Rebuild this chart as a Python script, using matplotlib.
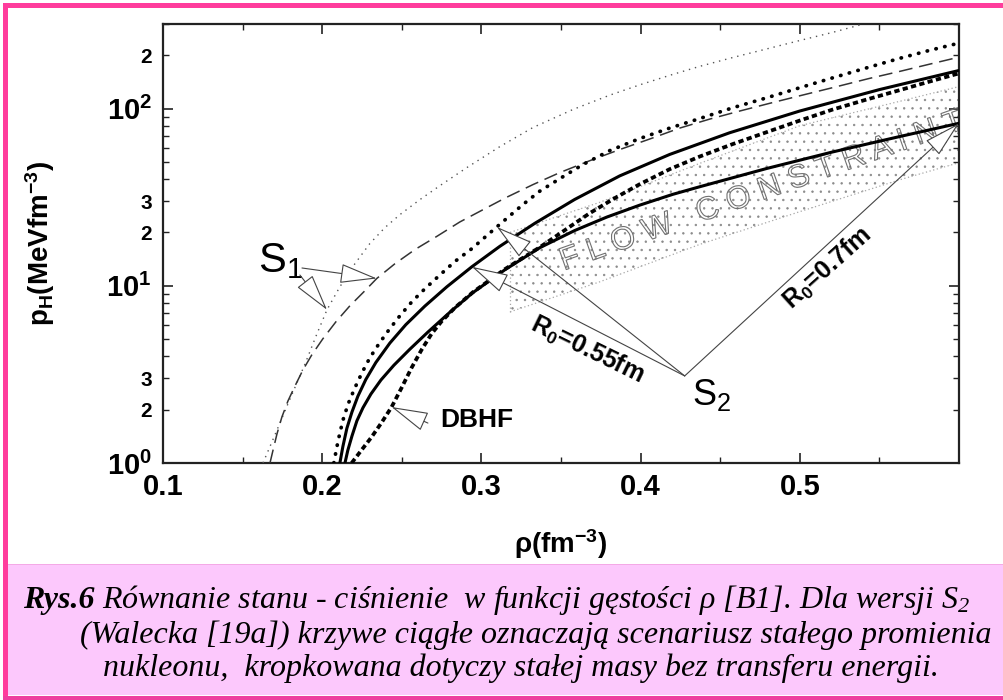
import matplotlib
matplotlib.use('Agg')
import matplotlib.pyplot as plt
import matplotlib.patches as patches
import matplotlib.patheffects as pe
from matplotlib.ticker import FixedLocator, FixedFormatter

plt.rcParams['font.family'] = ['Liberation Sans', 'DejaVu Sans']
plt.rcParams['font.weight'] = 'bold'
plt.rcParams['mathtext.default'] = 'regular'
plt.rcParams['hatch.linewidth'] = 0.5

W, H = 1004, 700

# pressure p (MeV fm^-3) versus density rho (fm^-3)
# S1, thin dotted
s1_dot_rho = [0.1628, 0.1703, 0.1797, 0.1891, 0.1967, 0.2030, 0.2111, 0.2205, 0.2299,
              0.2394, 0.2488, 0.2613, 0.2739, 0.2908, 0.3116, 0.3323, 0.3574, 0.3806,
              0.3994, 0.4183, 0.4371, 0.4578, 0.4792, 0.4999, 0.5206, 0.5388]
s1_dot_p = [1.00, 1.44, 2.29, 3.60, 5.36, 7.32, 9.87, 13.3, 17.3,
            21.3, 25.2, 30.6, 36.7, 46.4, 61.0, 78.1, 98.7, 119,
            136, 154, 173, 194, 217, 242, 269, 298]

# S1, long dashes
s1_dash_rho = [0.1672, 0.1691, 0.1716, 0.1747, 0.1785, 0.1829, 0.1879, 0.1935, 0.2004,
               0.2086, 0.2174, 0.2268, 0.2343, 0.2456, 0.2582, 0.2720, 0.2864, 0.3021,
               0.3153, 0.3323, 0.3492, 0.3681, 0.3869, 0.4057, 0.4246, 0.4434, 0.4622,
               0.4810, 0.4999, 0.5218, 0.5438, 0.5627, 0.5815, 0.6]
s1_dash_p = [1.00, 1.18, 1.46, 1.82, 2.24, 2.72, 3.35, 4.08, 5.02,
             6.26, 7.71, 9.37, 11.0, 13.3, 16.0, 19.0, 22.9, 27.2,
             31.4, 37.2, 43.5, 50.8, 58.7, 67.3, 77.6, 87.2, 96.8,
             107, 118, 132, 148, 162, 178, 195]

# S2, constant mass (heavy dots)
s2_mass_rho = [0.2073, 0.2092, 0.2111, 0.2136, 0.2168, 0.2205, 0.2249, 0.2299, 0.2356,
               0.2419, 0.2488, 0.2563, 0.2645, 0.2739, 0.2833, 0.2940, 0.3097, 0.3260,
               0.3367, 0.3492, 0.3637, 0.3806, 0.3994, 0.4183, 0.4371, 0.4578, 0.4792,
               0.4999, 0.5206, 0.5413, 0.5627, 0.5815, 0.6]
s2_mass_p = [1.00, 1.23, 1.48, 1.82, 2.21, 2.65, 3.22, 3.92, 4.70,
             5.64, 6.77, 8.12, 9.62, 11.5, 13.7, 16.2, 21.5, 28.7,
             34.2, 40.2, 48.3, 57.9, 67.7, 77.6, 87.8, 101, 115,
             131, 149, 169, 192, 213, 234]

# S2, R0 = 0.55 fm
r055_rho = [0.2111, 0.2130, 0.2155, 0.2187, 0.2224, 0.2274, 0.2337, 0.2425, 0.2525,
            0.2645, 0.2783, 0.2940, 0.3116, 0.3335, 0.3586, 0.3869, 0.4183, 0.4559,
            0.4999, 0.5501, 0.6]
r055_p = [1.00, 1.24, 1.57, 1.94, 2.38, 2.96, 3.69, 4.75, 6.03,
          7.68, 9.87, 12.8, 16.7, 22.5, 30.7, 41.7, 55.1, 73.0,
          96.8, 128, 164]

# DBHF
dbhf_rho = [0.2185, 0.2243, 0.2310, 0.2373, 0.2436, 0.2498, 0.2561, 0.2624, 0.2687,
            0.2750, 0.2833, 0.2946, 0.3147, 0.3367, 0.3524, 0.3681, 0.3837, 0.3994,
            0.4183, 0.4371, 0.4578, 0.4792, 0.4999, 0.5206, 0.5413, 0.5627, 0.5815, 0.6]
dbhf_p = [1.00, 1.17, 1.40, 1.69, 2.07, 2.65, 3.44, 4.35, 5.36,
          6.30, 7.51, 9.19, 12.4, 16.5, 20.6, 25.7, 31.2, 37.4,
          45.5, 53.6, 63.0, 73.6, 85.5, 98.7, 112, 127, 142, 158]

# S2, R0 = 0.7 fm
r07_rho = [0.2143, 0.2161, 0.2187, 0.2218, 0.2256, 0.2306, 0.2369, 0.2450, 0.2551,
           0.2664, 0.2802, 0.2946, 0.3147, 0.3367, 0.3586, 0.3787, 0.3994, 0.4202,
           0.4371, 0.4792, 0.5206, 0.5627, 0.6]
r07_p = [1.00, 1.18, 1.42, 1.73, 2.05, 2.45, 2.94, 3.56, 4.39,
         5.48, 7.09, 9.14, 12.3, 16.4, 20.5, 24.4, 28.5, 32.8,
         36.2, 45.9, 56.9, 69.5, 82.6]

# flow constraint band
flow_rho = [0.318, 0.374, 0.437, 0.500, 0.563, 0.600]
flow_lo = [7.13, 10.5, 17.1, 26.2, 39.7, 49.5]
flow_hi = [20.0, 29.5, 49.0, 80.0, 110, 133]

x_major = [0.1, 0.2, 0.3, 0.4, 0.5, 0.6]
x_major_labels = ['0.1', '0.2', '0.3', '0.4', '0.5', '']
x_minor = [0.15, 0.25, 0.35, 0.45, 0.55]
y_major = [1, 10, 100]
y_major_labels = [r'$10^0$', r'$10^1$', r'$10^2$']
y_minor = [2, 3, 4, 5, 6, 7, 8, 9, 20, 30, 40, 50, 60, 70, 80, 90, 200, 300]
y_minor_labels = ['2', '3', '', '', '', '', '', '', '2', '3', '', '', '', '', '', '', '2', '']

caption_lines = [
    ' Równanie stanu - ciśnienie  w funkcji gęstości ρ [B1]. Dla wersji S$_2$',
    '(Walecka [19a]) krzywe ciągłe oznaczają scenariusz stałego promienia',
    'nukleonu,  kropkowana dotyczy stałej masy bez transferu energii.',
]


def fx(px):
    return px / W


def fy(py):
    return 1 - py / H


fig = plt.figure(figsize=(W / 100, H / 100), dpi=100)
fig.patch.set_facecolor('white')

# page decoration: pink frame and caption box
pink = '#ff3c9c'
fig.add_artist(patches.Rectangle((fx(8), fy(695)), 1 - fx(8), fy(564) - fy(695),
                                 transform=fig.transFigure, facecolor='#fcc8fc',
                                 edgecolor='none', zorder=0))
fig.add_artist(patches.Rectangle((fx(8), fy(565)), 1 - fx(8), 1.2 / H,
                                 transform=fig.transFigure, facecolor='#f4a9e6',
                                 edgecolor='none', zorder=0))
fig.add_artist(patches.Rectangle((fx(3), fy(7.5)), 1 - fx(3), 4.5 / H,
                                 transform=fig.transFigure, facecolor=pink,
                                 edgecolor='none', zorder=1))
fig.add_artist(patches.Rectangle((fx(3), 0), 5 / W, fy(3),
                                 transform=fig.transFigure, facecolor=pink,
                                 edgecolor='none', zorder=1))
fig.add_artist(patches.Rectangle((fx(3), 0), 1 - fx(3), 4 / H,
                                 transform=fig.transFigure, facecolor='#ee3f9f',
                                 edgecolor='none', zorder=1))

ax = fig.add_axes([fx(163), fy(463), fx(959) - fx(163), fy(24) - fy(463)])
ax.set_yscale('log')
ax.set_xlim(0.1, 0.6)
ax.set_ylim(1, 300)

# flow constraint band
ax.fill_between(flow_rho, flow_lo, flow_hi, facecolor='none', edgecolor='#8a8a8a',
                hatch='..', linewidth=0, zorder=1)
band_style = dict(color='#a8a8a8', lw=0.9, ls=(0, (1, 2)), zorder=1)
ax.plot(flow_rho, flow_hi, **band_style)
ax.plot(flow_rho, flow_lo, **band_style)
ax.plot([flow_rho[0], flow_rho[0]], [flow_lo[0], flow_hi[0]], **band_style)
ax.text(0.4766, 34.0, 'F L O W   C O N S T R A I N T', rotation=19.5,
        rotation_mode='anchor', ha='center', va='center', fontsize=23,
        fontweight='normal', zorder=2,
        path_effects=[pe.PathPatchEffect(edgecolor='#707070', facecolor='none',
                                         linewidth=0.8)])

# equation of state curves
ax.plot(s1_dot_rho, s1_dot_p, color='#555555', lw=1.0, ls=(0, (1, 3.5)), zorder=3)
ax.plot(s1_dash_rho, s1_dash_p, color='#333333', lw=1.1, ls=(0, (9, 4.5)), zorder=3)
ax.plot(s2_mass_rho, s2_mass_p, color='black', lw=2.7, ls=(0, (0.1, 2.3)),
        dash_capstyle='round', zorder=4)
ax.plot(r055_rho, r055_p, color='black', lw=2.2, zorder=4)
ax.plot(dbhf_rho, dbhf_p, color='black', lw=2.7, ls=(0, (1.4, 0.9)), zorder=4)
ax.plot(r07_rho, r07_p, color='black', lw=2.2, zorder=4)

# pointer arrows with open heads
arrow = dict(arrowstyle='-|>,head_length=1.7,head_width=0.45', mutation_scale=14,
             fc='white', ec='#444444', lw=0.8, shrinkA=0, shrinkB=0)
ax.annotate('', xy=(s1_dash_rho[12], s1_dash_p[12]), xytext=(0.1873, 12.6),
            arrowprops=arrow, zorder=5)
ax.annotate('', xy=(s1_dot_rho[5], s1_dot_p[5]), xytext=(0.186, 11.5),
            arrowprops=arrow, zorder=5)
ax.annotate('', xy=(dbhf_rho[4], dbhf_p[4]), xytext=(0.2664, 1.68),
            arrowprops=arrow, zorder=5)
s2_vertex = (0.4277, 3.10)
ax.annotate('', xy=(s2_mass_rho[16], s2_mass_p[16]), xytext=s2_vertex,
            arrowprops=arrow, zorder=5)
ax.annotate('', xy=(r055_rho[11], r055_p[11]), xytext=s2_vertex,
            arrowprops=arrow, zorder=5)
ax.annotate('', xy=(r07_rho[-1], r07_p[-1]), xytext=s2_vertex,
            arrowprops=arrow, zorder=5)

ax.text(0.1596, 12.0, r'S$_1$', fontsize=30, fontweight='normal', va='baseline')
ax.text(0.4321, 2.13, r'S$_2$', fontsize=26, fontweight='normal', va='baseline')
ax.text(0.2739, 1.6, 'DBHF', fontsize=19, va='baseline')
ax.text(0.3668, 4.35, r'R$_0$=0.55fm', fontsize=18, rotation=-26,
        rotation_mode='anchor', ha='center', va='center')
ax.text(0.5175, 12.6, r'R$_0$=0.7fm', fontsize=18, rotation=42,
        rotation_mode='anchor', ha='center', va='center')

# axes frame and ticks
for s in ax.spines.values():
    s.set_linewidth(1.6)
    s.set_color('#222222')
ax.xaxis.set_major_locator(FixedLocator(x_major))
ax.xaxis.set_major_formatter(FixedFormatter(x_major_labels))
ax.xaxis.set_minor_locator(FixedLocator(x_minor))
ax.yaxis.set_major_locator(FixedLocator(y_major))
ax.yaxis.set_major_formatter(FixedFormatter(y_major_labels))
ax.yaxis.set_minor_locator(FixedLocator(y_minor))
ax.yaxis.set_minor_formatter(FixedFormatter(y_minor_labels))
ax.tick_params(which='both', direction='in', top=True, right=True, color='#222222')
ax.tick_params(which='major', length=7, width=1.2, labelsize=21, pad=7)
ax.tick_params(which='minor', length=4.5, width=1.0)
ax.tick_params(axis='y', which='major', labelsize=21, pad=8)
ax.tick_params(axis='y', which='minor', labelsize=15, pad=8)

fig.text(fx(40), (fy(24) + fy(463)) / 2, r'p$_H$(MeVfm$^{-3}$)', rotation=90,
         ha='center', va='center', fontsize=20)
fig.text(fx(561), fy(544), r'ρ(fm$^{-3}$)', ha='center', va='center', fontsize=20)

# caption
cap_font = ['Liberation Serif', 'DejaVu Serif']
cap_size = 23
t0 = fig.text(fx(23), fy(608), 'Rys.6', family=cap_font, style='italic',
              weight='bold', size=cap_size, va='baseline')
renderer = fig.canvas.get_renderer()
x_after = t0.get_window_extent(renderer=renderer).x1 / fig.bbox.width
fig.text(x_after, fy(608), caption_lines[0], family=cap_font, style='italic',
         weight='normal', size=cap_size, va='baseline')
fig.text(fx(80), fy(643), caption_lines[1], family=cap_font, style='italic',
         weight='normal', size=cap_size, va='baseline')
fig.text(fx(103), fy(676), caption_lines[2], family=cap_font, style='italic',
         weight='normal', size=cap_size, va='baseline')

fig.savefig('out.png', dpi=100)
